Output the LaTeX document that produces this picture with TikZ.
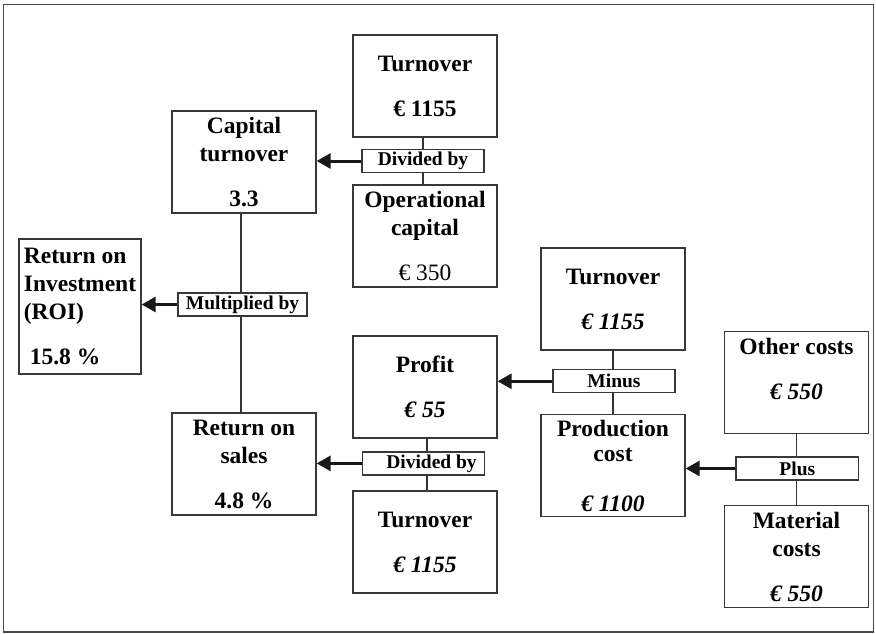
\documentclass[tikz,border=0pt]{standalone}
\usepackage{fontspec}
\setmainfont{Liberation Serif}
\usetikzlibrary{arrows.meta}
\begin{document}
\begin{tikzpicture}[x=1pt,y=-1pt,
  box/.style={draw=black!78,line width=1.3pt,minimum width=144pt,minimum height=102pt,inner sep=0pt,align=center,
    font=\fontsize{23.5pt}{28pt}\selectfont\bfseries},
  oplabel/.style={draw=black!78,line width=1.2pt,fill=white,minimum width=122pt,minimum height=23pt,inner sep=0pt,
    font=\fontsize{19.5pt}{22pt}\selectfont\bfseries},
  link/.style={draw=black!80,line width=1.1pt},
  arr/.style={draw=black!90,line width=3pt,-{Triangle[length=14pt,width=15pt]}},
  frame/.style={draw=black!70,line width=1.4pt}]
\useasboundingbox (0,0) rectangle (876,634);
\draw[frame] (3.5,4.5) rectangle (873.5,632);
% boxes
\node[box] (tt)   at (425,86)     {Turnover\\[17pt]€ 1155};
\node[box] (cap)  at (244,162)    {Capital\\turnover\\[17pt]3.3};
\node[box] (op)   at (425,236)    {Operational\\capital\\[17pt]{\mdseries € 350}};
\node[box,minimum width=122pt,minimum height=135pt,align=left] (roi) at (80,306.5)
  {Return on\\Investment\\(ROI)\\[17pt]\hspace*{6pt}15.8 \%};
\node[box] (tm)   at (613,299)    {Turnover\\[17pt]\textit{€ 1155}};
\node[box] (prof) at (425,387)    {Profit\\[17pt]\textit{€ 55}};
\node[box] (prod) at (613,465.75) {Production\\[-3pt]cost\\[22pt]\textit{€ 1100}};
\node[box] (oth)  at (796.5,382.75) {Other costs\\[17pt]\textit{€ 550}\\\mbox{}};
\node[box] (mat)  at (796.5,556.75) {Material\\costs\\[17pt]\textit{€ 550}};
\node[box] (ros)  at (244,464)    {Return on\\sales\\[17pt]4.8 \%};
\node[box] (tb)   at (425,542)    {Turnover\\[17pt]\textit{€ 1155}};
% operation labels
\node[oplabel] (dv1) at (423,161)      {Divided by};
\node[oplabel,minimum width=129pt] (mul) at (242.5,304.5) {Multiplied by};
\node[oplabel] (mi)  at (614,381.3)    {Minus};
\node[oplabel,minimum width=122.7pt] (pl) at (797.3,468.5) {Plus};
\node[oplabel] (dv2) at (423.5,463.4)  {\hspace*{16pt}Divided by};
% vertical links
\draw[link] (tt.south -| dv1.north) -- (dv1.north);
\draw[link] (dv1.south) -- (op.north -| dv1.south);
\draw[link] ([xshift=-3pt]cap.south) -- ([xshift=-3pt]cap.south |- mul.north);
\draw[link] ([xshift=-3pt]cap.south |- mul.south) -- ([xshift=-3pt]ros.north);
\draw[link] (tm.south) -- (tm.south |- mi.north);
\draw[link] (tm.south |- mi.south) -- (prod.north);
\draw[link] (oth.south) -- (oth.south |- pl.north);
\draw[link] (oth.south |- pl.south) -- (mat.north);
\draw[link] ([xshift=2pt]prof.south) -- ([xshift=2pt]prof.south |- dv2.north);
\draw[link] ([xshift=2pt]prof.south |- dv2.south) -- ([xshift=2pt]tb.north);
% arrows
\draw[arr] (dv1.west) -- (cap.east |- dv1.west);
\draw[arr] (mul.west) -- (roi.east |- mul.west);
\draw[arr] (mi.west) -- (prof.east |- mi.west);
\draw[arr] (pl.west) -- (prod.east |- pl.west);
\draw[arr] (dv2.west) -- (ros.east |- dv2.west);
\end{tikzpicture}
\end{document}
